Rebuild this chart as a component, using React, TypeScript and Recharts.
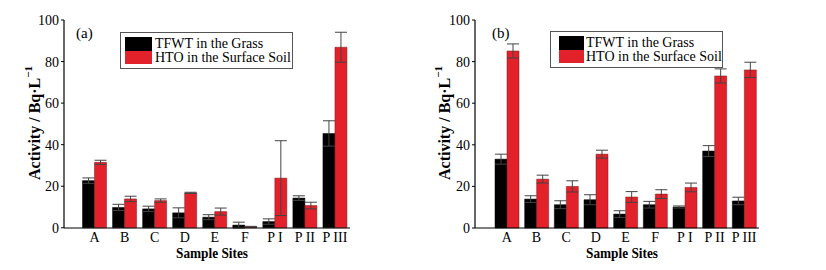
import React from 'react';
import { BarChart, Bar, XAxis, YAxis, ErrorBar, Legend } from 'recharts';

const sites = ['A', 'B', 'C', 'D', 'E', 'F', 'P I', 'P II', 'P III'];
const seriesNames = ['TFWT in the Grass', 'HTO in the Surface Soil'];
const yTicks = [0, 20, 40, 60, 80, 100];
const yMinorTicks = [0, 10, 20, 30, 40, 50, 60, 70, 80, 90, 100];

// Panel (a)
const grassA = [22.7, 9.8, 9.1, 7.2, 5.1, 1.3, 3.0, 14.3, 45.4];
const grassAErr = [1.3, 1.5, 1.3, 2.4, 1.2, 1.4, 1.3, 1.1, 6.1];
const soilA = [31.5, 13.9, 13.1, 16.8, 7.8, 0.5, 23.9, 10.7, 86.9];
const soilAErr = [1.0, 1.3, 0.8, 0.3, 1.7, 0.2, 18.0, 1.6, 7.2];

// Panel (b)
const grassB = [33.1, 13.9, 11.2, 13.6, 6.7, 11.2, 10.1, 37.0, 13.0];
const grassBErr = [2.4, 1.6, 1.9, 2.4, 1.6, 1.6, 0.5, 2.6, 1.8];
const soilB = [85.1, 23.5, 20.0, 35.5, 14.9, 16.3, 19.5, 73.1, 76.0];
const soilBErr = [3.4, 1.9, 2.7, 1.9, 2.6, 2.1, 2.1, 3.4, 3.7];

const FONT = '"Liberation Serif", "Times New Roman", serif';
const BLACK = '#000000';
const RED = '#e3212a';

const build = (g: number[], ge: number[], s: number[], se: number[]) =>
  sites.map((site, i) => ({ site, grass: g[i], grassErr: ge[i], soil: s[i], soilErr: se[i] }));

const dataA = build(grassA, grassAErr, soilA, soilAErr);
const dataB = build(grassB, grassBErr, soilB, soilBErr);

const YTitle = () => (
  <text
    x={34}
    y={123}
    transform="rotate(-90, 34, 123)"
    textAnchor="middle"
    dominantBaseline="central"
    fontFamily={FONT}
    fontWeight="bold"
    fontSize={16}
    fill="#000"
  >
    Activity / Bq·L<tspan dy={-6} fontSize={11}>−1</tspan>
  </text>
);

const XTitle = ({ cx }: { cx: number }) => (
  <text
    x={cx}
    y={258}
    textAnchor="middle"
    fontFamily={FONT}
    fontWeight="bold"
    fontSize={15}
    textLength={72}
    lengthAdjust="spacingAndGlyphs"
    fill="#000"
  >
    Sample Sites
  </text>
);

type LegendLayout = { w: number; h: number; swX: number; swW: number; textGap: number };

const makeLegend = (lay: LegendLayout) => (props: any) => {
  const payload = [...(props.payload || [])].sort(
    (a: any, b: any) => seriesNames.indexOf(a.value) - seriesNames.indexOf(b.value)
  );
  return (
    <div
      style={{
        width: lay.w,
        height: lay.h,
        boxSizing: 'border-box',
        border: '1px solid #555',
        background: '#fff',
        paddingTop: 4,
        paddingLeft: lay.swX,
        fontFamily: FONT,
        fontSize: 14,
        color: '#000',
        textAlign: 'left',
      }}
    >
      {payload.map((p: any) => (
        <div key={p.value} style={{ display: 'flex', alignItems: 'center', height: 13.5, lineHeight: '13.5px' }}>
          <span style={{ display: 'inline-block', width: lay.swW, height: 13.5, background: p.color }} />
          <span style={{ marginLeft: lay.textGap, whiteSpace: 'nowrap' }}>{p.value}</span>
        </div>
      ))}
    </div>
  );
};

type PanelProps = {
  left: number;
  width: number;
  data: any[];
  marginLeft: number;
  marginRight: number;
  padLeft: number;
  tag: string;
  tagX: number;
  legendPos: { left: number; top: number };
  legendLayout: LegendLayout;
};

const Panel = (p: PanelProps) => {
  const plotLeft = p.marginLeft + 40;
  const plotRight = p.width - p.marginRight;
  const cx = (plotLeft + plotRight) / 2 + 5;
  return (
    <div style={{ position: 'absolute', left: p.left, top: 0, width: p.width, height: 270 }}>
      <BarChart
        width={p.width}
        height={270}
        data={p.data}
        margin={{ top: 20, right: p.marginRight, bottom: 0, left: p.marginLeft }}
        barCategoryGap={3}
        barGap={0}
      >
        <XAxis
          dataKey="site"
          xAxisId="x"
          height={42}
          interval={0}
          tickLine={false}
          tickSize={0}
          tickMargin={4}
          axisLine={{ stroke: '#000', strokeWidth: 1.2 }}
          padding={{ left: p.padLeft, right: 0 }}
          tick={{ fill: '#000', fontFamily: FONT, fontSize: 14 }}
          label={<XTitle cx={cx} />}
        />
        <YAxis
          yAxisId="main"
          width={40}
          domain={[0, 100]}
          ticks={yTicks}
          interval={0}
          tickSize={3}
          tickMargin={2}
          axisLine={{ stroke: '#000', strokeWidth: 1.2 }}
          tickLine={{ stroke: '#000' }}
          tick={{ fill: '#000', fontFamily: FONT, fontSize: 14 }}
          label={<YTitle />}
        />
        <YAxis
          yAxisId="minor"
          mirror
          width={0}
          domain={[0, 100]}
          ticks={yMinorTicks}
          interval={0}
          tickSize={3}
          axisLine={false}
          tickLine={{ stroke: '#000' }}
          tickFormatter={() => ''}
        />
        <Legend
          layout="horizontal"
          verticalAlign="middle"
          align="center"
          wrapperStyle={{ left: p.legendPos.left, top: p.legendPos.top, width: p.legendLayout.w }}
          content={makeLegend(p.legendLayout)}
        />
        <Bar
          dataKey="grass"
          name={seriesNames[0]}
          xAxisId="x"
          yAxisId="main"
          fill={BLACK}
          stroke="#000"
          strokeWidth={0.5}
          isAnimationActive={false}
        >
          <ErrorBar dataKey="grassErr" width={6} stroke="#444" strokeWidth={1} direction="y" />
        </Bar>
        <Bar
          dataKey="soil"
          name={seriesNames[1]}
          xAxisId="x"
          yAxisId="main"
          fill={RED}
          stroke="#7a1a1a"
          strokeWidth={0.5}
          isAnimationActive={false}
        >
          <ErrorBar dataKey="soilErr" width={6} stroke="#444" strokeWidth={1} direction="y" />
        </Bar>
      </BarChart>
      <div
        style={{
          position: 'absolute',
          left: p.tagX,
          top: 25,
          fontFamily: FONT,
          fontSize: 15,
          lineHeight: '16px',
          color: '#000',
        }}
      >
        {p.tag}
      </div>
    </div>
  );
};

export default function App() {
  return (
    <div style={{ position: 'absolute', left: 0, top: 0, width: 826, height: 270, background: '#fff' }}>
      <Panel
        left={0}
        width={410}
        data={dataA}
        marginLeft={24}
        marginRight={60}
        padLeft={15.5}
        tag="(a)"
        tagX={76}
        legendPos={{ left: 120, top: 32 }}
        legendLayout={{ w: 173, h: 37, swX: 4, swW: 27, textGap: 3 }}
      />
      <Panel
        left={410}
        width={416}
        data={dataB}
        marginLeft={25}
        marginRight={67}
        padLeft={17}
        tag="(b)"
        tagX={82}
        legendPos={{ left: 140, top: 31 }}
        legendLayout={{ w: 173, h: 37, swX: 8, swW: 25, textGap: 2 }}
      />
    </div>
  );
}
